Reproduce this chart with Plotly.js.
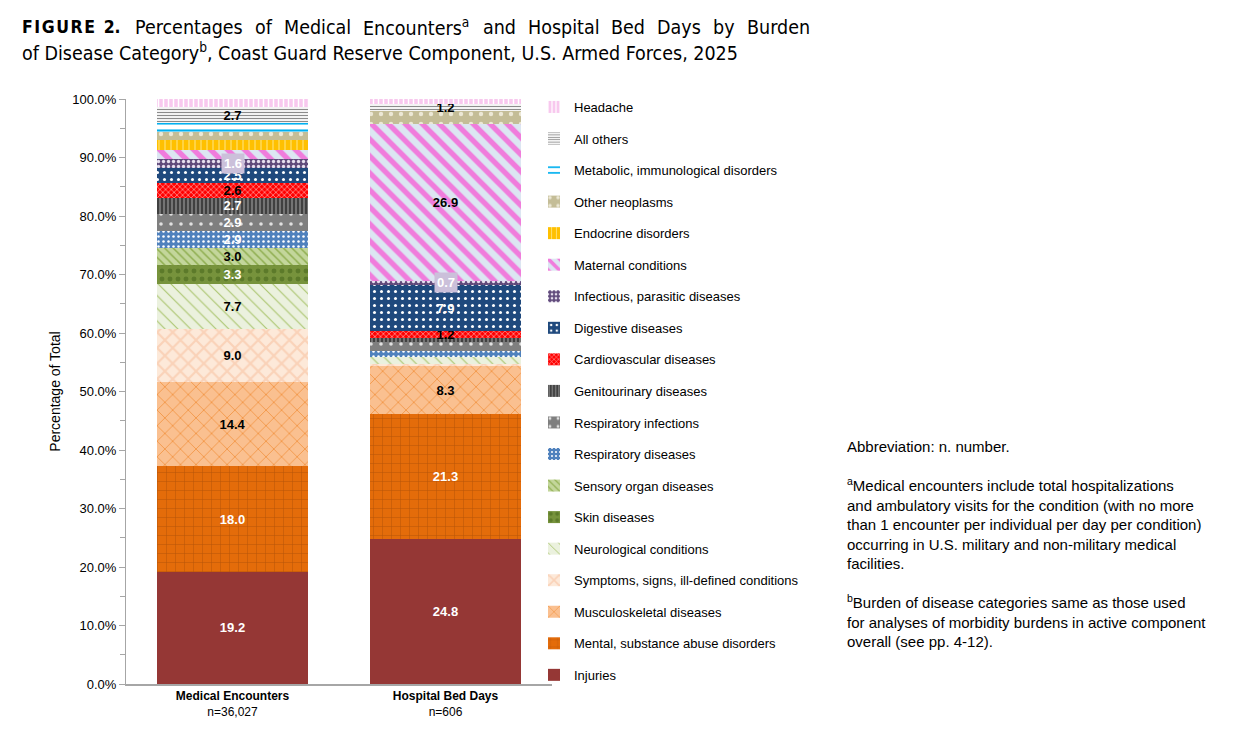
<!DOCTYPE html>
<html>
<head>
<meta charset="utf-8">
<script src="https://cdn.plot.ly/plotly-3.0.1.min.js"></script>
<style>html,body{margin:0;padding:0;background:#fff;}#chart{width:1250px;height:748px;}</style>
</head>
<body>
<div id="chart"></div>
<script>
// ---------------- DATA ----------------
const groups = ['Medical Encounters', 'Hospital Bed Days'];
const groupN = ['n=36,027', 'n=606'];
const categories = [
  'Injuries',
  'Mental, substance abuse disorders',
  'Musculoskeletal diseases',
  'Symptoms, signs, ill-defined conditions',
  'Neurological conditions',
  'Skin diseases',
  'Sensory organ diseases',
  'Respiratory diseases',
  'Respiratory infections',
  'Genitourinary diseases',
  'Cardiovascular diseases',
  'Digestive diseases',
  'Infectious, parasitic diseases',
  'Maternal conditions',
  'Endocrine disorders',
  'Other neoplasms',
  'Metabolic, immunological disorders',
  'All others',
  'Headache'
];
const medicalEncounters = [19.2, 18.0, 14.4, 9.0, 7.7, 3.3, 3.0, 2.9, 2.9, 2.7, 2.6, 2.5, 1.6, 1.5, 1.7, 1.4, 1.5, 2.7, 1.4];
const hospitalBedDays   = [24.8, 21.3, 8.3, 0.3, 1.2, 0.0, 0.0, 1.0, 1.6, 0.6, 1.2, 7.9, 0.7, 26.9, 0.0, 2.1, 0.0, 1.2, 0.9];
// which segments carry a printed value label
const medicalLabeled  = [1,1,1,1,1,1,1,1,1,1,1,1,1,0,0,0,0,1,0];
const hospitalLabeled = [1,1,1,0,0,0,0,0,0,0,1,1,1,1,0,0,0,1,0];
const boxedCategory = 'Infectious, parasitic diseases';

// ---------------- STYLE ----------------
const FONT = 'Arial, "Liberation Sans", sans-serif';
const W = 1250, H = 748, ml = 126, mr = 698, mt = 99, mb = 64;
const pw = W - ml - mr, ph = H - mt - mb;
const pxX = p => (p - ml) / pw;
const pxY = p => (H - mb - p) / ph;

const styles = [
  {bg:'#953735', shape:'',   fg:'#953735', size:8,  sol:0.3},
  {bg:'#E46C0A', shape:'+',  fg:'#B35208', size:9,  sol:0.1},
  {bg:'#FAC090', shape:'x',  fg:'#F08A30', size:11, sol:0.12},
  {bg:'#FDE9D9', shape:'x',  fg:'#FAD2B8', size:11, sol:0.35},
  {bg:'#EBF1DE', shape:'\\', fg:'#A9C46C', size:9,  sol:0.12},
  {bg:'#77933C', shape:'.',  fg:'#5C7A2A', size:8,  sol:0.3},
  {bg:'#C3D69B', shape:'\\', fg:'#8FAE50', size:6,  sol:0.25},
  {bg:'#4F81BD', shape:'.',  fg:'#FFFFFF', size:5,  sol:0.2},
  {bg:'#7F7F7F', shape:'.',  fg:'#E0E0E0', size:10, sol:0.1},
  {bg:'#404040', shape:'|',  fg:'#8A8A8A', size:4,  sol:0.35},
  {bg:'#FF0000', shape:'x',  fg:'#FFB0B0', size:4,  sol:0.3},
  {bg:'#1F497D', shape:'.',  fg:'#FFFFFF', size:7,  sol:0.15},
  {bg:'#604A7B', shape:'.',  fg:'#E6DFEE', size:5,  sol:0.35},
  {bg:'#DCE6F2', shape:'\\', fg:'#F07CDC', size:12, sol:0.45},
  {bg:'#FFC000', shape:'|',  fg:'#FFE070', size:6,  sol:0.2},
  {bg:'#C4BD97', shape:'.',  fg:'#ECE8D6', size:10, sol:0.15},
  {bg:'#FFFFFF', shape:'-',  fg:'#00B0F0', size:7,  sol:0.3},
  {bg:'#FFFFFF', shape:'-',  fg:'#8C8C8C', size:3,  sol:0.4},
  {bg:'#F8C8EE', shape:'|',  fg:'#FFFFFF', size:5,  sol:0.3}
];
const medTextColor  = ['#fff','#fff','#000','#000','#000','#fff','#000','#fff','#fff','#fff','#000','#fff','#fff','#000','#000','#000','#000','#000','#000'];
const hospTextColor = ['#fff','#fff','#000','#000','#000','#000','#000','#fff','#fff','#fff','#000','#fff','#fff','#000','#000','#000','#000','#000','#000'];

// ---------------- TRACES ----------------
const traces = categories.map((name, i) => {
  const st = styles[i];
  const boxed = name === boxedCategory;
  return {
    type: 'bar',
    name: name,
    x: groups,
    y: [medicalEncounters[i], hospitalBedDays[i]],
    text: [
      (medicalLabeled[i] && !boxed) ? medicalEncounters[i].toFixed(1) : '',
      (hospitalLabeled[i] && !boxed) ? hospitalBedDays[i].toFixed(1) : ''
    ],
    textposition: 'inside',
    insidetextanchor: 'middle',
    textangle: 0,
    constraintext: 'none',
    textfont: {family: FONT, size: 13, color: [medTextColor[i], hospTextColor[i]], weight: 'bold'},
    marker: {
      color: st.bg,
      line: {width: 0},
      pattern: st.shape ? {shape: st.shape, bgcolor: st.bg, fgcolor: st.fg, size: st.size, solidity: st.sol, fillmode: 'replace'} : undefined
    },
    legendgroup: 'g' + i,
    legendrank: categories.length - i,
    hoverinfo: 'name+y'
  };
});

// boxed labels computed from the data through the y axis
const annotations = [];
const boxIdx = categories.indexOf(boxedCategory);
[medicalEncounters, hospitalBedDays].forEach((series, g) => {
  const below = series.slice(0, boxIdx).reduce((a, b) => a + b, 0);
  annotations.push({
    xref: 'x', yref: 'y', x: groups[g], y: below + series[boxIdx] / 2,
    text: '<b>' + series[boxIdx].toFixed(1) + '</b>', showarrow: false,
    font: {family: FONT, size: 13, color: '#FFFFFF'},
    bgcolor: '#CBC0DA', borderpad: 2
  });
});

// Titles (first line justified between 133 px and 808 px like the source)
const TFONT = '"DejaVu Sans Condensed", "Liberation Sans Narrow", "Arial Narrow", Arial, sans-serif';
const TSIZE = 19.5;
function titlePiece(text, xpx, ypx, anchor, size) {
  annotations.push({
    xref: 'paper', yref: 'paper', x: pxX(xpx), y: pxY(ypx), xanchor: anchor, yanchor: 'middle',
    text: text, showarrow: false, font: {family: TFONT, size: size || TSIZE, color: '#000'}
  });
}
titlePiece('<b>F\u200AI\u200AG\u200AU\u200AR\u200AE\u2009 2.</b>', 20, 27, 'left', 17.5);
(function justifyLine() {
  const words = [['Percentages',''],['of',''],['Medical',''],['Encounters','a'],['and',''],['Hospital',''],['Bed',''],['Days',''],['by',''],['Burden','']];
  const ctx = document.createElement('canvas').getContext('2d');
  const meas = (t, s) => { ctx.font = s + 'px ' + TFONT; return ctx.measureText(t).width; };
  const widths = words.map(([w, sup]) => meas(w, TSIZE) + (sup ? meas(sup, TSIZE * 0.7) + 1 : 0));
  const total = widths.reduce((a, b) => a + b, 0);
  const x0 = 133, x1 = 808;
  const gap = (x1 - x0 - total) / (words.length - 1);
  let x = x0;
  words.forEach(([w, sup], i) => {
    titlePiece(w + (sup ? '<sup>' + sup + '</sup>' : ''), x, 27, 'left');
    x += widths[i] + gap;
  });
})();
titlePiece('of Disease Category<sup>b</sup>, Coast Guard Reserve Component, U.S. Armed Forces, 2025', 20, 52, 'left');

// Footnotes
annotations.push({
  xref: 'paper', yref: 'paper', x: pxX(845), y: pxY(436), xanchor: 'left', yanchor: 'top', align: 'left',
  showarrow: false,
  font: {family: FONT, size: 15, color: '#000'},
  text: 'Abbreviation: n. number.<br><br>' +
        '<sup>a</sup>Medical encounters include total hospitalizations<br>' +
        'and ambulatory visits for the condition (with no more<br>' +
        'than 1 encounter per individual per day per condition)<br>' +
        'occurring in U.S. military and non-military medical<br>' +
        'facilities.<br><br>' +
        '<sup>b</sup>Burden of disease categories same as those used<br>' +
        'for analyses of morbidity burdens in active component<br>' +
        'overall (see pp. 4-12).'
});

const layout = {
  width: W, height: H,
  margin: {l: ml, r: mr, t: mt, b: mb, pad: 0},
  paper_bgcolor: '#FFFFFF', plot_bgcolor: '#FFFFFF',
  barmode: 'stack',
  bargap: 0.29,
  font: {family: FONT, size: 13, color: '#000'},
  uniformtext: {mode: 'show', minsize: 13},
  showlegend: true,
  legend: {
    x: pxX(534), y: pxY(92), xanchor: 'left', yanchor: 'top',
    traceorder: 'grouped', tracegroupgap: 11.65,
    maxheight: 720,
    font: {family: FONT, size: 13, color: '#000'},
    bgcolor: 'rgba(0,0,0,0)'
  },
  xaxis: {
    type: 'category',
    tickvals: groups,
    ticktext: groups.map((g, i) => '<b>' + g + '</b><br>' + groupN[i]),
    tickfont: {family: FONT, size: 12, color: '#000'},
    showline: true, linecolor: '#A6A6A6', linewidth: 1.5,
    ticks: '', showgrid: false, zeroline: false,
    range: [-0.5, 1.5], fixedrange: true
  },
  yaxis: {
    range: [0, 100], dtick: 10, tick0: 0,
    tickformat: '.1f', ticksuffix: '%',
    tickfont: {family: FONT, size: 13, color: '#000'},
    ticks: 'outside', ticklen: 6, tickcolor: '#A6A6A6', tickwidth: 1,
    minor: {dtick: 5, ticks: 'outside', ticklen: 5, tickcolor: '#A6A6A6', showgrid: false},
    showline: true, linecolor: '#A6A6A6', linewidth: 1,
    showgrid: false, zeroline: false,
    title: {text: 'Percentage of Total', font: {family: FONT, size: 14, color: '#000'}, standoff: 8}
  },
  annotations: annotations
};

Plotly.newPlot('chart', traces, layout, {displayModeBar: false, responsive: false});
</script>
</body>
</html>
